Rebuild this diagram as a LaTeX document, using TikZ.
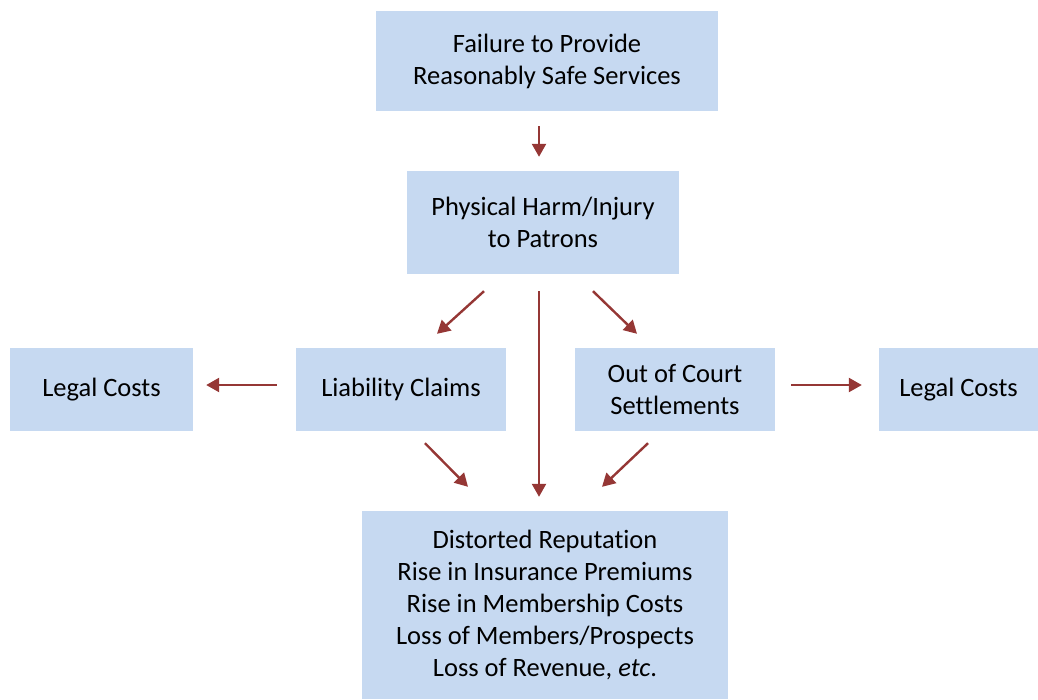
\documentclass[tikz,border=0pt]{standalone}
\usepackage{fontspec}
\setmainfont[Ligatures={NoCommon}]{Carlito}
\usetikzlibrary{arrows.meta}
\definecolor{boxfill}{HTML}{C6D9F1}
\definecolor{arrowred}{HTML}{953735}
\begin{document}
\begin{tikzpicture}[x=1pt,y=-1pt,
  box/.style={fill=boxfill,draw=none,inner sep=0pt,align=center,font=\fontsize{26.5}{32}\selectfont},
  arr/.style={draw=arrowred,line width=2.4pt,-{Triangle[length=13pt,width=14pt]}}]
\useasboundingbox (0,0) rectangle (1038,699);
\node[box,minimum width=342pt,minimum height=100pt] (top) at (547,61) {Failure to Provide\\Reasonably Safe Services};
\node[box,minimum width=272pt,minimum height=103pt] (phys) at (543,222.5) {Physical Harm/Injury\\to Patrons};
\node[box,minimum width=183pt,minimum height=83pt] (legalL) at (101.5,389.5) {Legal Costs};
\node[box,minimum width=210pt,minimum height=83pt] (liab) at (401,389.5) {Liability Claims};
\node[box,minimum width=200pt,minimum height=83pt] (out) at (675,389.5) {Out of Court\\Settlements};
\node[box,minimum width=159pt,minimum height=83pt] (legalR) at (958.5,389.5) {Legal Costs};
\node[box,minimum width=366pt,minimum height=188pt] (bot) at (545,605) {Distorted Reputation\\Rise in Insurance Premiums\\Rise in Membership Costs\\Loss of Members/Prospects\\Loss of Revenue, \textit{etc}.};
\draw[arr] ([xshift=-8pt,yshift=-15pt]top.south) -- ([xshift=-4pt,yshift=14pt]phys.north);
\draw[arr] ([xshift=-59pt,yshift=-17pt]phys.south) -- ([xshift=36pt,yshift=14pt]liab.north);
\draw[arr] ([xshift=-4pt,yshift=-17pt]phys.south) -- ([xshift=-6pt,yshift=14pt]bot.north);
\draw[arr] ([xshift=50pt,yshift=-17pt]phys.south) -- ([xshift=-38pt,yshift=14pt]out.north);
\draw[arr] ([xshift=-19pt,yshift=4.5pt]liab.west) -- ([xshift=13pt,yshift=4.5pt]legalL.east);
\draw[arr] ([xshift=16pt,yshift=4.5pt]out.east) -- ([xshift=-17pt,yshift=4.5pt]legalR.west);
\draw[arr] ([xshift=24pt,yshift=-12pt]liab.south) -- ([xshift=-77pt,yshift=24pt]bot.north);
\draw[arr] ([xshift=-27pt,yshift=-12pt]out.south) -- ([xshift=57pt,yshift=24pt]bot.north);
\end{tikzpicture}
\end{document}
